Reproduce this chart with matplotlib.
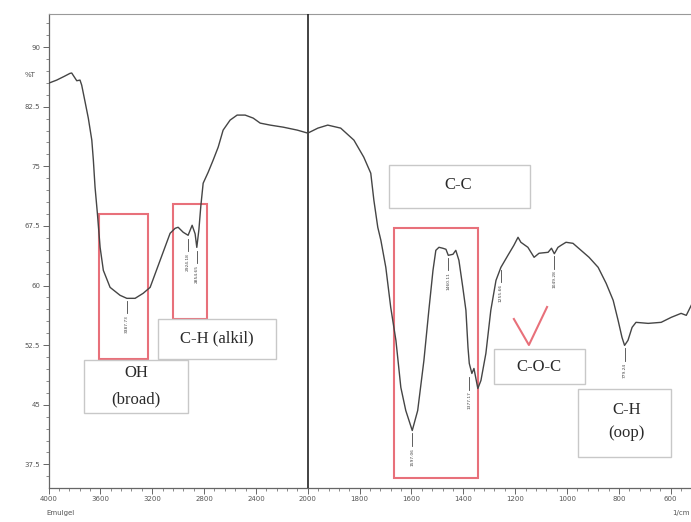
# FTIR spectrum with functional-group annotations
# x axis uses the usual FTIR double scale below 2000 cm-1

import numpy as np
import matplotlib.pyplot as plt
from matplotlib.patches import Rectangle
from matplotlib.ticker import FixedLocator, MultipleLocator, FuncFormatter

# spectrum (wavenumber, %T)
wavenumber = [4000, 3996, 3937, 3880, 3834, 3821, 3782, 3757, 3744, 3718, 3693,
              3666, 3654, 3641, 3623, 3602, 3577, 3525, 3448, 3396, 3332, 3270,
              3216, 3139, 3062, 3023, 3000, 2961, 2923, 2892, 2869, 2856, 2840,
              2825, 2807, 2768, 2730, 2691, 2653, 2599, 2545, 2483, 2421, 2367,
              2290, 2189, 2081, 2000, 1961, 1923, 1873, 1822, 1784, 1757, 1745,
              1730, 1718, 1699, 1680, 1660, 1641, 1622, 1597, 1576, 1552, 1533,
              1517, 1506, 1494, 1479, 1467, 1458, 1440, 1429, 1417, 1402, 1390,
              1382, 1377, 1367, 1359, 1344, 1332, 1313, 1294, 1274, 1255, 1228,
              1205, 1189, 1178, 1151, 1127, 1108, 1073, 1060, 1049, 1035, 1023,
              1004, 977, 946, 915, 880, 849, 822, 803, 788, 778, 765, 749, 734,
              687, 637, 598, 560, 540, 517, 480, 440, 400]
transmittance = [85.5, 85.47, 85.84, 86.3, 86.69, 86.73, 85.76, 85.84, 85.21,
                 83.11, 81.06, 78.29, 75.77, 72.37, 69.09, 64.81, 61.91, 59.77,
                 58.77, 58.39, 58.39, 59.02, 59.77, 63.17, 66.57, 67.20, 67.33,
                 66.70, 66.32, 67.58, 66.5, 64.8, 67.0, 70.0, 72.87, 74.26, 75.77,
                 77.41, 79.55, 80.81, 81.44, 81.44, 81.06, 80.43, 80.18, 79.92,
                 79.55, 79.17, 79.80, 80.18, 79.80, 78.29, 76.15, 74.13, 70.73,
                 67.33, 65.69, 62.29, 57.25, 53.10, 47.18, 44.28, 41.76, 44.28,
                 50.58, 56.88, 61.91, 64.43, 64.81, 64.69, 64.56, 63.80, 63.93,
                 64.43, 63.17, 59.77, 56.88, 52.22, 50.20, 48.94, 49.57, 47.05,
                 48.06, 51.46, 56.88, 60.65, 62.29, 63.80, 65.06, 66.07, 65.44,
                 64.81, 63.55, 64.06, 64.18, 64.69, 64.0, 64.8, 65.06, 65.44,
                 65.31, 64.43, 63.55, 62.29, 60.27, 58.14, 55.62, 53.48, 52.47,
                 53.10, 54.74, 55.37, 55.24, 55.37, 56.00, 56.50, 56.25, 57.76,
                 57.2, 56.8, 57.5]

# labelled peaks
peak_wn = [3396, 2923, 2856, 1597, 1458, 1377, 1255, 1049, 778]
peak_t = [58.3, 66.1, 64.6, 41.6, 63.7, 48.7, 62.2, 63.9, 52.3]
peak_labels = ["3387.73", "2924.18", "2854.65", "1597.06", "1460.11",
               "1377.17", "1255.66", "1049.28", "779.24"]

x_major = [4000, 3600, 3200, 2800, 2400, 2000, 1800, 1600, 1400, 1200, 1000, 800, 600]
y_major = [37.5, 45, 52.5, 60, 67.5, 75, 82.5, 90]

RED = "#e8707a"
BOX = "#c8c8c8"
SERIF = "Liberation Serif"


def fwd(w):
    w = np.asarray(w, dtype=float)
    return np.where(w > 2000, 2000 + (w - 2000) / 2, w)


def inv(u):
    u = np.asarray(u, dtype=float)
    return np.where(u > 2000, 2000 + (u - 2000) * 2, u)


fig = plt.figure(figsize=(6.91, 5.22), dpi=100)
ax = fig.add_axes([0.0702, 0.0651, 0.9755, 0.908])
ax.set_xscale("function", functions=(fwd, inv))
ax.set_xlim(4000, 400)
ax.set_ylim(34.53, 94.15)

ax.plot(wavenumber, transmittance, color="#454545", lw=1.0, zorder=4)
ax.axvline(2000, color="#222222", lw=1.2, zorder=3)

# ticks
minor_x = list(np.arange(4000, 2000, -80)) + list(np.arange(2000, 399, -40))
ax.xaxis.set_major_locator(FixedLocator(x_major))
ax.xaxis.set_minor_locator(FixedLocator(minor_x))
ax.xaxis.set_major_formatter(FuncFormatter(lambda v, p: f"{v:.0f}"))
ax.yaxis.set_major_locator(FixedLocator(y_major))
ax.yaxis.set_minor_locator(MultipleLocator(1.5))
ax.yaxis.set_major_formatter(FuncFormatter(lambda v, p: f"{v:g}"))
ax.tick_params(which="major", direction="out", length=4, width=0.7,
               colors="#666666", labelcolor="#555555", labelsize=5, pad=2)
ax.tick_params(which="minor", direction="out", length=2, width=0.6, colors="#777777")
for side in ["left", "bottom"]:
    ax.spines[side].set_color("#666666")
    ax.spines[side].set_linewidth(0.9)
ax.spines["top"].set_color("#999999")
ax.spines["top"].set_linewidth(0.8)

ax.annotate("%T", xy=(-0.027, 86.5), xycoords=("axes fraction", "data"),
            ha="center", va="center", fontsize=5, color="#555555")
fig.text(0.087, 0.013, "Emulgel", fontsize=5, color="#555555", ha="center")
fig.text(0.998, 0.013, "1/cm", fontsize=5, color="#555555", ha="right")

# red highlight boxes
for (w0, w1, t0, t1) in [(3608, 3229, 50.75, 69.0),
                         (3036, 2774, 55.8, 70.25),
                         (1668, 1344, 35.79, 67.23)]:
    ax.add_patch(Rectangle((w0, t0), w1 - w0, t1 - t0, fill=False,
                           edgecolor=RED, lw=1.5, zorder=2))
ax.plot([1205, 1147, 1077], [55.79, 52.52, 57.3], color=RED, lw=1.5, zorder=2)

# label boxes
label_boxes = [
    ((3726, 2923, 43.96, 50.6), [(3324, 49.0, "OH"), (3324, 45.7, "(broad)")]),
    ((3154, 2243, 50.75, 55.8), [(2699, 53.3, "C-H (alkil)")]),
    ((1687, 1143, 69.75, 75.16), [(1421, 72.6, "C-C")]),
    ((1282, 931, 47.6, 52.0), [(1108, 49.8, "C-O-C")]),
    ((958, 599, 38.43, 46.98), [(770, 44.3, "C-H"), (770, 41.4, "(oop)")]),
]
for (w0, w1, t0, t1), texts in label_boxes:
    ax.add_patch(Rectangle((w0, t0), w1 - w0, t1 - t0, facecolor="white",
                           edgecolor=BOX, lw=1.0, zorder=5))
    for wx, ty, s in texts:
        ax.text(wx, ty, s, ha="center", va="center", fontsize=12,
                family=SERIF, color="#2a2a2a", zorder=6)

# peak markers
for w, t, s in zip(peak_wn, peak_t, peak_labels):
    ax.plot([w, w], [t - 0.2, t - 1.8], color="#444444", lw=0.6, zorder=4)
    ax.text(w, t - 2.0, s, rotation=90, ha="center", va="top",
            fontsize=3.2, color="#444444", zorder=4)

fig.savefig("out.png", dpi=100)
